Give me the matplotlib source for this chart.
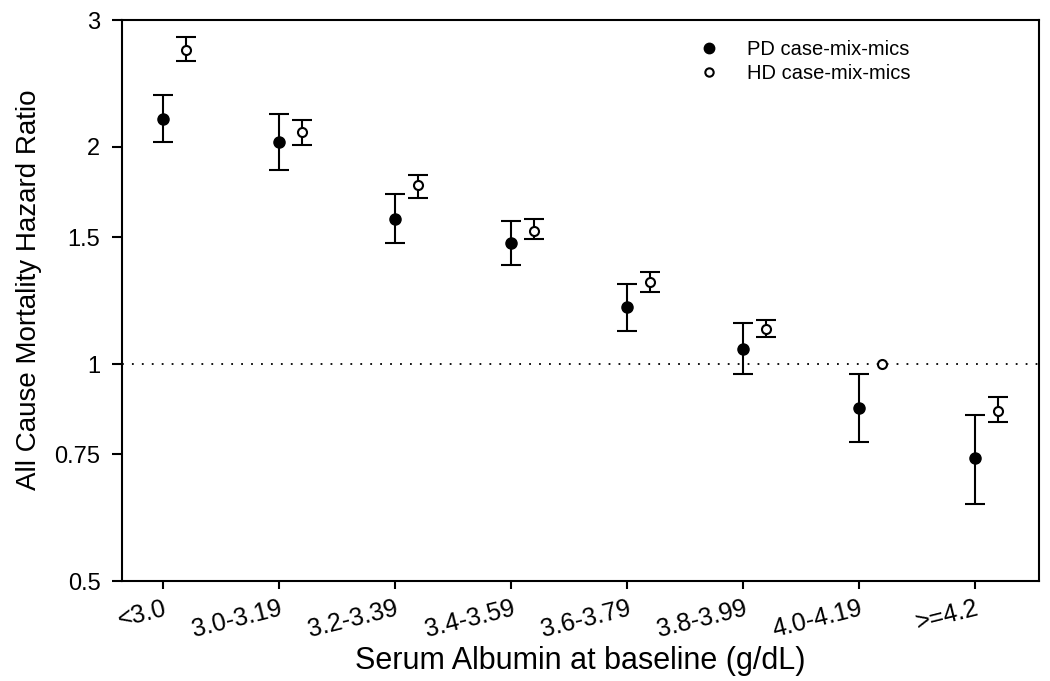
import numpy as np
import matplotlib
matplotlib.use('Agg')
import matplotlib.pyplot as plt
from matplotlib.lines import Line2D
from matplotlib.ticker import FixedLocator, NullLocator

plt.rcParams['font.family'] = ['Liberation Sans', 'DejaVu Sans']

categories = ['<3.0', '3.0-3.19', '3.2-3.39', '3.4-3.59', '3.6-3.79',
              '3.8-3.99', '4.0-4.19', '>=4.2']

pd_hr = [2.19, 2.03, 1.59, 1.47, 1.20, 1.05, 0.87, 0.74]
pd_lo = [2.03, 1.86, 1.47, 1.37, 1.11, 0.97, 0.78, 0.64]
pd_hi = [2.36, 2.22, 1.72, 1.58, 1.29, 1.14, 0.97, 0.85]

hd_hr = [2.73, 2.10, 1.77, 1.53, 1.30, 1.12, 1.00, 0.86]
hd_lo = [2.63, 2.01, 1.70, 1.49, 1.26, 1.09, np.nan, 0.83]
hd_hi = [2.84, 2.18, 1.83, 1.59, 1.34, 1.15, np.nan, 0.90]

y_ticks = [0.5, 0.75, 1, 1.5, 2, 3]
y_tick_labels = ['0.5', '0.75', '1', '1.5', '2', '3']

x = np.arange(len(categories))
hd_offset = 0.2

fig = plt.figure(figsize=(10.5, 6.81), dpi=100)
ax = fig.add_axes([0.1162, 0.1468, 0.8733, 0.8238])

ax.axhline(1, color='black', linestyle=(0, (1, 4.5)), linewidth=1.3, zorder=1)

pd_hr = np.array(pd_hr)
ax.errorbar(x, pd_hr, yerr=[pd_hr - np.array(pd_lo), np.array(pd_hi) - pd_hr],
            fmt='o', color='black', markersize=8, elinewidth=1.5,
            capsize=7.5, capthick=1.5, zorder=3)

hd_hr = np.array(hd_hr)
hd_lo = np.array(hd_lo)
hd_hi = np.array(hd_hi)
has_ci = np.isfinite(hd_lo)
ax.errorbar(x[has_ci] + hd_offset, hd_hr[has_ci],
            yerr=[hd_hr[has_ci] - hd_lo[has_ci], hd_hi[has_ci] - hd_hr[has_ci]],
            fmt='none', ecolor='black', elinewidth=1.5,
            capsize=7.5, capthick=1.5, zorder=2)
ax.plot(x + hd_offset, hd_hr, 'o', markerfacecolor='white',
        markeredgecolor='black', markeredgewidth=1.5, markersize=6.5, zorder=4)

ax.set_yscale('log')
ax.set_ylim(0.5, 3)
ax.set_xlim(-0.353, 7.55)
ax.yaxis.set_major_locator(FixedLocator(y_ticks))
ax.set_yticklabels(y_tick_labels)
ax.yaxis.set_minor_locator(NullLocator())

ax.set_xticks(x)
ax.set_xticklabels(categories, rotation=14, ha='right', va='top',
                   rotation_mode='anchor', fontsize=18)

ax.tick_params(axis='y', direction='out', length=7.5, width=1.5, pad=8, labelsize=17)
ax.tick_params(axis='x', direction='out', length=6, width=1.5, pad=5)
for s in ax.spines.values():
    s.set_linewidth(1.5)

ax.set_xlabel('Serum Albumin at baseline (g/dL)', fontsize=22, labelpad=3)
ax.set_ylabel('All Cause Mortality Hazard Ratio', fontsize=20)
ax.yaxis.set_label_coords(-0.087, 0.52)

handles = [
    Line2D([], [], linestyle='none', marker='o', color='black', markersize=7.5),
    Line2D([], [], linestyle='none', marker='o', markerfacecolor='white',
           markeredgecolor='black', markeredgewidth=1.5, markersize=6),
]
ax.legend(handles, ['PD case-mix-mics', 'HD case-mix-mics'], frameon=False,
          loc='upper left', bbox_to_anchor=(0.609, 0.997), fontsize=14.5,
          handlelength=1.0, handletextpad=1.4, labelspacing=0.27)

fig.savefig('out.png', dpi=100)
